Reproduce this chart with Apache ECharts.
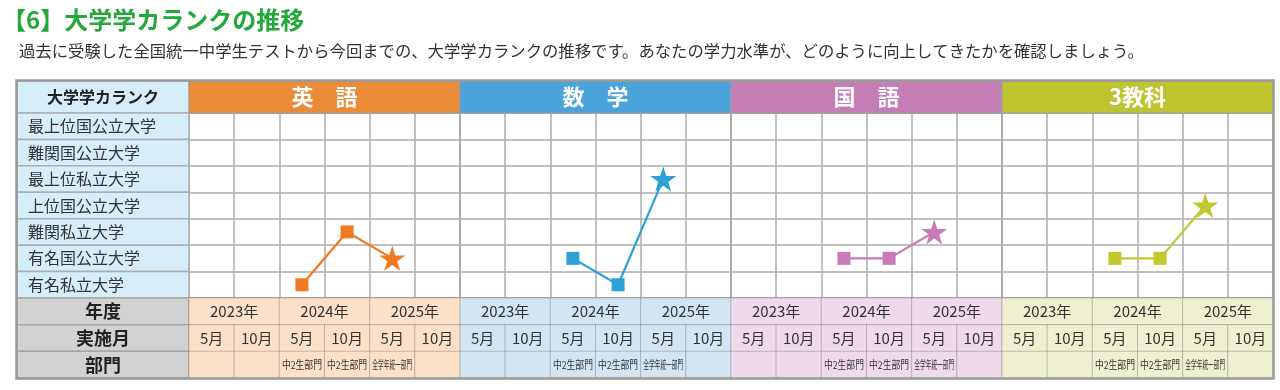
<!DOCTYPE html>
<html><head><meta charset="utf-8">
<script src="https://cdn.jsdelivr.net/npm/echarts@6/dist/echarts.min.js"></script>
<style>html,body{margin:0;padding:0;background:#fff;}#c{width:1280px;height:390px;}</style>
</head><body><div id="c"></div>
<script>
// ---------- data ----------
const titleText = '【6】大学学カランクの推移';
const subtitleText = '過去に受験した全国統一中学生テストから今回までの、大学学カランクの推移です。あなたの学力水準が、どのように向上してきたかを確認しましょう。';
const rankHeader = '大学学カランク';
const ranks = ['最上位国公立大学','難関国公立大学','最上位私立大学','上位国公立大学','難関私立大学','有名国公立大学','有名私立大学'];
const rowLabels = ['年度','実施月','部門'];
const years = ['2023年','2024年','2025年'];
const months = ['5月','10月','5月','10月','5月','10月'];
const divisions = ['','','中2生部門','中2生部門','全学年統一部門',''];
const subjects = ['英　語','数　学','国　語','3教科'];
const english = [null,null,'有名私立大学','難関私立大学','有名国公立大学',null];
const math = [null,null,'有名国公立大学','有名私立大学','最上位私立大学',null];
const japanese = [null,null,'有名国公立大学','有名国公立大学','難関私立大学',null];
const threeSubjects = [null,null,'有名国公立大学','有名国公立大学','上位国公立大学',null];
const latestIndex = 4;

// ---------- style / layout ----------
const FONT = '"Noto Sans CJK JP", "Noto Sans", sans-serif';
const panelData = [english, math, japanese, threeSubjects];
const panelColors = [
  {head:'#E98B37', line:'#F07A22', bg:'#FCE0C7'},
  {head:'#4AA3DB', line:'#2D9FD9', bg:'#D3E4F3'},
  {head:'#C47EB5', line:'#C97BB7', bg:'#EEDAEA'},
  {head:'#BEC42F', line:'#C2C72E', bg:'#EEF0CF'}
];
const L = 17, LW = 172, PW = 271, TOP = 81, HH = 32, CH = 185, BH = 80;
const GRID_LINE = '#adadad', BORDER = '#9a9a9a';
const STAR = 'path://M50 0 L61.23 34.55 L97.55 34.55 L68.16 55.9 L79.39 90.45 L50 69.1 L20.61 90.45 L31.84 55.9 L2.45 34.55 L38.77 34.55 Z';

const measureCtx = document.createElement('canvas').getContext('2d');
function fitScale(text, font, maxW, cap) {
  measureCtx.font = font;
  const w = measureCtx.measureText(text).width;
  return Math.min(cap, maxW / w);
}

const grids = [], xAxes = [], yAxes = [], series = [];

function addValueGrid(left, top, width, height, nCols, nRows) {
  const idx = grids.length;
  grids.push({left, top, width, height});
  xAxes.push({type:'value', gridIndex:idx, min:0, max:nCols, show:false});
  yAxes.push({type:'value', gridIndex:idx, min:0, max:nRows, inverse:true, show:false});
  return idx;
}
function addCells(idx, cells, z) {
  series.push({
    type:'custom', xAxisIndex:idx, yAxisIndex:idx, z:z || 2, silent:true, animation:false,
    data: cells.map(c => [c.c0, c.r, c.c1]),
    renderItem: (params, api) => {
      const c = cells[params.dataIndex];
      const a = api.coord([c.c0, c.r]);
      const b = api.coord([c.c1, c.r + 1]);
      const children = [{
        type:'rect',
        shape:{x:a[0], y:a[1], width:b[0]-a[0], height:b[1]-a[1]},
        style:{fill:c.fill, stroke:c.stroke || null, lineWidth:c.lw || 1}
      }];
      if (c.text) {
        const tx = c.align === 'left' ? a[0] + c.pad : (a[0] + b[0]) / 2;
        children.push({
          type:'text', x:tx, y:(a[1] + b[1]) / 2 + (c.dy || 0), scaleX:c.scaleX || 1,
          style:{text:c.text, fill:c.color, font:c.font,
                 align:c.align || 'center', verticalAlign:'middle',
                 textAlign:c.align || 'center', textVerticalAlign:'middle'}
        });
      }
      return {type:'group', children};
    }
  });
}

// label column: header
{
  const g = addValueGrid(L, TOP, LW, HH, 1, 1);
  addCells(g, [{c0:0, c1:1, r:0, fill:'#D6EDFA', stroke:BORDER, text:rankHeader,
    color:'#222', font:'bold 16px ' + FONT}]);
}
// label column: ranks
{
  const g = addValueGrid(L, TOP + HH, LW, CH, 1, ranks.length);
  addCells(g, ranks.map((r, i) => ({c0:0, c1:1, r:i, fill:'#D6EDFA', stroke:GRID_LINE, lw:1.5,
    text:r, color:'#333', font:'16px ' + FONT, align:'left', pad:11})));
}
// label column: bottom rows
{
  const g = addValueGrid(L, TOP + HH + CH, LW, BH, 1, rowLabels.length);
  addCells(g, rowLabels.map((r, i) => ({c0:0, c1:1, r:i, fill:'#D2D2D2', stroke:'#a8a8a8', lw:1.5,
    text:r, color:'#222', font:'bold 18px ' + FONT})));
}

panelData.forEach((vals, p) => {
  const left = L + LW + p * PW;
  const col = panelColors[p];
  // header
  const hg = addValueGrid(left, TOP, PW, HH, 1, 1);
  addCells(hg, [{c0:0, c1:1, r:0, fill:col.head, stroke:BORDER, text:subjects[p],
    color:'#fff', font:'bold 22px ' + FONT}]);

  // bottom table
  const bg = addValueGrid(left, TOP + HH + CH, PW, BH, months.length, 3);
  const cells = [];
  years.forEach((y, j) => cells.push({c0:2*j, c1:2*j+2, r:0, fill:col.bg, stroke:'rgba(0,0,0,0.17)',
    text:y, color:'#333', font:'15px ' + FONT}));
  months.forEach((m, k) => cells.push({c0:k, c1:k+1, r:1, fill:col.bg, stroke:'rgba(0,0,0,0.17)',
    text:m, color:'#333', font:'15px ' + FONT}));
  divisions.forEach((d, k) => {
    const f = '11px ' + FONT;
    cells.push({c0:k, c1:k+1, r:2, fill:col.bg, stroke:'rgba(0,0,0,0.17)',
      text:d, color:'#333', font:f, scaleX: d ? fitScale(d, f, 40, 0.85) : 1});
  });
  addCells(bg, cells);

  // chart grid with category axes
  const idx = grids.length;
  grids.push({left, top:TOP + HH, width:PW, height:CH, show:true,
    backgroundColor:'#fff', borderColor:BORDER, borderWidth:1.5});
  xAxes.push({type:'category', gridIndex:idx, data:months, boundaryGap:true,
    axisLine:{show:false}, axisTick:{show:false}, axisLabel:{show:false},
    splitLine:{show:true, interval:0, lineStyle:{color:GRID_LINE, width:1.5}}});
  yAxes.push({type:'category', gridIndex:idx, data:ranks, inverse:true, boundaryGap:true,
    axisLine:{show:false}, axisTick:{show:false}, axisLabel:{show:false},
    splitLine:{show:true, interval:0, lineStyle:{color:GRID_LINE, width:1.5}}});
  const pts = [];
  vals.forEach((r, k) => {
    if (r == null) return;
    const star = k === latestIndex;
    pts.push({value:[k, ranks.indexOf(r)], symbol: star ? STAR : 'rect',
      symbolSize: star ? [26, 25] : 13});
  });
  series.push({type:'line', xAxisIndex:idx, yAxisIndex:idx, data:pts, z:10,
    animation:false, silent:true,
    lineStyle:{color:col.line, width:2.2}, itemStyle:{color:col.line, opacity:1}});
});

const chart = echarts.init(document.getElementById('c'), null, {renderer:'canvas'});
chart.setOption({
  animation:false,
  backgroundColor:'#fff',
  title:[
    {text:titleText, left:2, top:8, padding:0,
     textStyle:{color:'#24A83C', fontSize:24, fontWeight:'bold', fontFamily:FONT}},
    {text:subtitleText, left:19, top:43, padding:0,
     textStyle:{color:'#333', fontSize:16.35, fontWeight:'normal', fontFamily:FONT}}
  ],
  grid:grids, xAxis:xAxes, yAxis:yAxes, series:series,
  graphic:[{type:'rect', z:100, silent:true,
    shape:{x:L - 0.5, y:TOP - 0.5, width:LW + 4 * PW + 1, height:HH + CH + BH + 1},
    style:{fill:null, stroke:BORDER, lineWidth:2.5}}]
});
</script></body></html>
